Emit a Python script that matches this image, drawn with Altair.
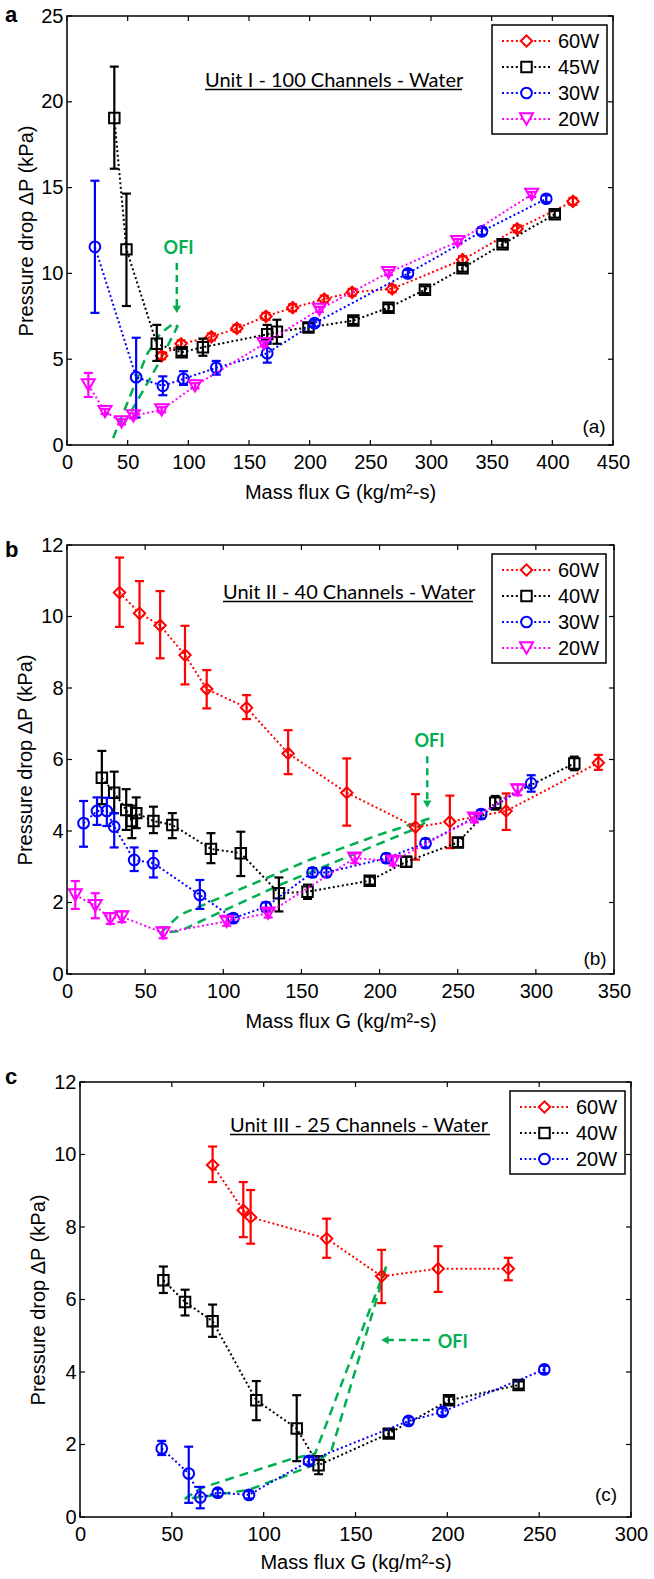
import altair as alt
import pandas as pd

FONT = "Liberation Sans"
TFONT = "Lato"
RED, BLACK, BLUE, MAG, GREEN = "#ff0000", "#000000", "#0000ff", "#ff00ff", "#00b050"

# ---------------- Panel (a): Unit I - 100 Channels ----------------
a_xticks = [0, 50, 100, 150, 200, 250, 300, 350, 400, 450]
a_yticks = [0, 5, 10, 15, 20, 25]
a_labels = ["60W", "45W", "30W", "20W"]

a60_G = [78, 94, 119, 140, 164, 186, 212, 235, 268, 326, 371, 417]
a60_P = [5.2, 5.9, 6.3, 6.8, 7.5, 8.0, 8.5, 8.9, 9.1, 10.8, 12.6, 14.2]
a60_lo = [5.0, 5.7, 6.1, 6.6, 7.3, 7.8, 8.3, 8.7, 8.9, 10.6, 12.4, 14.0]
a60_hi = [5.4, 6.1, 6.5, 7.0, 7.7, 8.2, 8.7, 9.1, 9.3, 11.0, 12.8, 14.4]

a45_G = [39, 49, 74, 94.5, 112, 165, 173, 199, 236, 265, 295, 326, 359, 402]
a45_P = [19.05, 11.4, 5.9, 5.4, 5.7, 6.45, 6.6, 6.85, 7.25, 8.0, 9.05, 10.3, 11.7, 13.45]
a45_lo = [16.1, 8.1, 4.9, 5.2, 5.2, 5.9, 5.9, 6.6, 7.05, 7.8, 8.85, 10.1, 11.5, 13.25]
a45_hi = [22.05, 14.65, 7.0, 5.6, 6.2, 7.0, 7.3, 7.1, 7.45, 8.2, 9.25, 10.5, 11.9, 13.65]

a30_G = [23, 57, 79, 96, 123, 165, 204, 281, 342, 395]
a30_P = [11.55, 3.95, 3.45, 3.85, 4.5, 5.35, 7.1, 10.0, 12.45, 14.35]
a30_lo = [7.7, 1.6, 2.9, 3.5, 4.1, 4.8, 6.9, 9.8, 12.25, 14.15]
a30_hi = [15.4, 6.25, 4.0, 4.3, 4.9, 6.0, 7.3, 10.2, 12.65, 14.55]

a20_G = [17.6, 31.3, 45, 54.7, 78, 105.5, 162.4, 208, 265, 322, 383]
a20_P = [3.5, 1.95, 1.35, 1.7, 2.05, 3.45, 5.9, 7.9, 10.05, 11.85, 14.6]
a20_lo = [2.8, 1.8, 1.2, 1.55, 1.9, 3.3, 5.75, 7.75, 9.9, 11.7, 14.45]
a20_hi = [4.2, 2.1, 1.5, 1.85, 2.2, 3.6, 6.05, 8.05, 10.2, 12.0, 14.75]

a_ofi_G = [38, 66, 77, 88, 91, 77, 63, 52, 45]
a_ofi_P = [0.4, 5.3, 6.5, 7.1, 6.9, 4.95, 3.2, 1.85, 1.0]
a_arrow_G = [90.5, 90.5]
a_arrow_P = [10.6, 7.9]
a_ofi_label = [92, 11.4]

# ---------------- Panel (b): Unit II - 40 Channels ----------------
b_xticks = [0, 50, 100, 150, 200, 250, 300, 350]
b_yticks = [0, 2, 4, 6, 8, 10, 12]
b_labels = ["60W", "40W", "30W", "20W"]

b60_G = [33.6, 46.4, 59.6, 75.5, 89.4, 114.9, 141.5, 179, 223, 245, 281, 340]
b60_P = [10.67, 10.09, 9.75, 8.92, 7.97, 7.45, 6.17, 5.07, 4.11, 4.26, 4.56, 5.91]
b60_lo = [9.71, 9.25, 8.83, 8.1, 7.43, 7.13, 5.59, 4.15, 3.2, 3.52, 4.03, 5.71]
b60_hi = [11.65, 10.99, 10.71, 9.74, 8.5, 7.8, 6.82, 6.03, 5.03, 4.99, 5.05, 6.13]

b40_G = [22.3, 30.2, 37.9, 41.5, 44.3, 55.3, 67.4, 92.1, 111.2, 135.6, 153.9, 193.7, 217.1, 250.1, 274, 324.6]
b40_P = [5.49, 5.07, 4.59, 4.28, 4.5, 4.28, 4.17, 3.5, 3.38, 2.26, 2.3, 2.61, 3.14, 3.68, 4.79, 5.89]
b40_lo = [4.75, 4.5, 4.03, 3.8, 4.08, 3.94, 3.8, 3.1, 2.74, 1.75, 2.1, 2.5, 3.0, 3.55, 4.6, 5.7]
b40_hi = [6.24, 5.66, 5.17, 4.71, 4.94, 4.68, 4.5, 3.94, 3.98, 2.7, 2.5, 2.72, 3.28, 3.81, 4.98, 6.08]

b30_G = [10.6, 19.2, 25.5, 30.2, 43, 55.3, 85, 106.4, 127.3, 157.1, 166, 204.3, 229.4, 265, 297]
b30_P = [4.22, 4.56, 4.56, 4.12, 3.19, 3.1, 2.21, 1.56, 1.88, 2.84, 2.84, 3.24, 3.66, 4.47, 5.33]
b30_lo = [3.56, 4.17, 4.14, 3.54, 2.88, 2.7, 1.82, 1.45, 1.75, 2.72, 2.72, 3.12, 3.54, 4.35, 5.1]
b30_hi = [4.84, 4.94, 4.93, 4.5, 3.54, 3.44, 2.63, 1.67, 2.0, 2.96, 2.96, 3.36, 3.78, 4.59, 5.56]

b20_G = [5.3, 18.1, 27.7, 35.1, 61.5, 102.2, 128.7, 184.1, 208.6, 260.7, 288.4]
b20_P = [2.21, 1.91, 1.55, 1.6, 1.15, 1.47, 1.7, 3.24, 3.16, 4.36, 5.15]
b20_lo = [1.82, 1.56, 1.4, 1.45, 1.0, 1.35, 1.58, 3.1, 3.04, 4.24, 5.0]
b20_hi = [2.6, 2.26, 1.7, 1.75, 1.3, 1.6, 1.82, 3.38, 3.28, 4.48, 5.3]

b_ofi_G = [60, 72, 155, 200, 232, 225, 136, 72, 60]
b_ofi_P = [1.15, 1.65, 3.19, 3.9, 4.35, 4.1, 2.49, 1.2, 1.15]
b_arrow_G = [230.5, 230.5]
b_arrow_P = [6.09, 4.75]
b_ofi_label = [232, 6.48]

# ---------------- Panel (c): Unit III - 25 Channels ----------------
c_xticks = [0, 50, 100, 150, 200, 250, 300]
c_yticks = [0, 2, 4, 6, 8, 10, 12]
c_labels = ["60W", "40W", "20W"]

c60_G = [72.2, 88.9, 92.9, 134.3, 164.2, 195, 233.2]
c60_P = [9.71, 8.46, 8.27, 7.68, 6.64, 6.85, 6.85]
c60_lo = [9.24, 7.72, 7.54, 7.15, 5.9, 6.21, 6.53]
c60_hi = [10.22, 9.24, 9.02, 8.23, 7.37, 7.47, 7.15]

c40_G = [45.4, 57.2, 72.2, 96, 118, 129.9, 168.1, 200.9, 238.8]
c40_P = [6.53, 5.93, 5.4, 3.22, 2.44, 1.43, 2.3, 3.22, 3.64]
c40_lo = [6.18, 5.56, 4.97, 2.67, 1.54, 1.18, 2.2, 3.12, 3.54]
c40_hi = [6.91, 6.27, 5.86, 3.75, 3.36, 1.68, 2.4, 3.32, 3.74]

c20_G = [44.5, 59.2, 65.5, 75, 92, 124.7, 178.9, 197.4, 252.8]
c20_P = [1.89, 1.2, 0.54, 0.67, 0.61, 1.55, 2.65, 2.9, 4.07]
c20_lo = [1.71, 0.39, 0.24, 0.57, 0.51, 1.45, 2.55, 2.8, 3.97]
c20_hi = [2.1, 1.94, 0.83, 0.77, 0.71, 1.65, 2.75, 3.0, 4.17]

c_ofi_G = [57, 66, 115, 128, 167, 137, 128, 92, 66, 57]
c_ofi_P = [0.5, 0.8, 1.6, 1.75, 6.95, 1.85, 1.45, 0.75, 0.55, 0.5]
c_arrow_G = [190.5, 166]
c_arrow_P = [4.88, 4.88]
c_ofi_label = [203, 4.8]

# marker styles: (color, shape, size)
ST_DIA = (RED, "diamond", 130)
ST_SQ = (BLACK, "square", 110)
ST_CIR = (BLUE, "circle", 115)
ST_TRI = (MAG, "triangle-down", 170)

ONE = pd.DataFrame({"k": [0]})
TL = 5  # inner tick length


def make_panel(p):
    W, H, x0 = p["W"], p["H"], p.get("x0", 0)
    xs = alt.Scale(domain=p["xdom"], nice=False, zero=False, range=[x0, W])
    ys = alt.Scale(domain=p["ydom"], nice=False, zero=False)
    xax = alt.Axis(values=p["xticks"], ticks=False, tickSize=0, domain=False, grid=False,
                   labelFont=FONT, labelFontSize=20, labelColor="black", labelPadding=7,
                   labelFlush=False, labelOverlap=False, format="d",
                   title="Mass flux G (kg/m²-s)", titleFont=FONT, titleFontSize=20,
                   titleFontWeight="normal", titleColor="black", titleX=x0 + (W - x0) / 2,
                   titleY=p.get("xty", 47), titleBaseline="middle", titleAlign="center")
    yax = alt.Axis(values=p["yticks"], ticks=False, tickSize=0, domain=False, grid=False,
                   labelFont=FONT, labelFontSize=20, labelColor="black", labelPadding=4,
                   labelFlush=False, labelOverlap=False, format="d", offset=-x0,
                   title="Pressure drop ΔP (kPa)", titleFont=FONT, titleFontSize=20,
                   titleFontWeight="normal", titleColor="black", titleAngle=270,
                   titleX=p["ytx"], titleY=H / 2, titleBaseline="middle", titleAlign="center")

    def X(f):
        return alt.X(f, scale=xs, axis=xax)

    def Y(f):
        return alt.Y(f, scale=ys, axis=yax)

    layers = []
    # invisible spacer fixing the panel's vertical extent for the layout
    top_ext, bot_ext = p["extent"]
    layers.append(alt.Chart(ONE).mark_rule(strokeOpacity=0, strokeWidth=1).encode(
        x=alt.value(x0 + 20), y=alt.value(-top_ext), y2=alt.value(H + bot_ext)))

    xt = pd.DataFrame({"v": p["xticks"]})
    yt = pd.DataFrame({"v": p["yticks"]})
    layers.append(alt.Chart(xt).mark_rule(color="black", strokeWidth=1.2).encode(
        x=X("v:Q"), y=alt.value(H), y2=alt.value(H - TL)))
    layers.append(alt.Chart(xt).mark_rule(color="black", strokeWidth=1.2).encode(
        x=X("v:Q"), y=alt.value(0), y2=alt.value(TL)))
    layers.append(alt.Chart(yt).mark_rule(color="black", strokeWidth=1.2).encode(
        y=Y("v:Q"), x=alt.value(x0), x2=alt.value(x0 + TL)))
    layers.append(alt.Chart(yt).mark_rule(color="black", strokeWidth=1.2).encode(
        y=Y("v:Q"), x=alt.value(W), x2=alt.value(W - TL)))

    # OFI loop
    odf = pd.DataFrame({"G": p["ofi_G"], "P": p["ofi_P"]})
    odf["i"] = range(len(odf))
    layers.append(alt.Chart(odf).mark_line(color=GREEN, strokeWidth=2.5, strokeDash=[9, 6]).encode(
        x=X("G:Q"), y=Y("P:Q"), order="i:Q"))
    adf = pd.DataFrame({"G": p["arrow_G"], "P": p["arrow_P"]})
    adf["i"] = range(len(adf))
    layers.append(alt.Chart(adf).mark_line(color=GREEN, strokeWidth=2.5, strokeDash=[7, 5]).encode(
        x=X("G:Q"), y=Y("P:Q"), order="i:Q"))
    layers.append(alt.Chart(adf.iloc[[-1]]).mark_point(shape=p["arrow_shape"], filled=True, size=70,
                                                        color=GREEN, opacity=1).encode(
        x=X("G:Q"), y=Y("P:Q")))
    ldf = pd.DataFrame({"G": [p["ofi_label"][0]], "P": [p["ofi_label"][1]], "t": ["OFI"]})
    layers.append(alt.Chart(ldf).mark_text(font=TFONT, fontSize=18, fontWeight="bold", color=GREEN,
                                           align="center", baseline="middle").encode(
        x=X("G:Q"), y=Y("P:Q"), text="t:N"))

    # series
    for s in p["series"]:
        G, P, lo, hi, (col, shp, sz) = s
        df = pd.DataFrame({"G": G, "P": P, "lo": lo, "hi": hi})
        df["i"] = range(len(df))
        layers.append(alt.Chart(df).mark_line(color=col, strokeWidth=2, strokeDash=[2, 2.6]).encode(
            x=X("G:Q"), y=Y("P:Q"), order="i:Q"))
        layers.append(alt.Chart(df).mark_rule(color=col, strokeWidth=2.2).encode(
            x=X("G:Q"), y=Y("lo:Q"), y2=alt.Y2("hi")))
        for f in ("lo", "hi"):
            layers.append(alt.Chart(df).mark_tick(color=col, orient="horizontal", size=9, thickness=2.2,
                                                  opacity=1).encode(x=X("G:Q"), y=Y(f + ":Q")))
        layers.append(alt.Chart(df).mark_point(shape=shp, size=sz, filled=False, color=col,
                                               strokeWidth=2, opacity=1).encode(x=X("G:Q"), y=Y("P:Q")))

    # title with underline
    tx, ty, tw = p["title_pos"]
    tx += x0
    layers.append(alt.Chart(ONE).mark_text(text=p["title"], font=TFONT, fontSize=20, color="black",
                                           align="left", baseline="alphabetic").encode(
        x=alt.value(tx), y=alt.value(ty)))
    layers.append(alt.Chart(ONE).mark_rule(color="black", strokeWidth=1.5).encode(
        x=alt.value(tx), x2=alt.value(tx + tw), y=alt.value(ty + 2.5)))

    # panel letter and tag
    lx, ly = p["letter_pos"]
    layers.append(alt.Chart(ONE).mark_text(text=p["letter"], font=FONT, fontSize=22, fontWeight="bold",
                                           color="black", align="left", baseline="alphabetic").encode(
        x=alt.value(lx + x0), y=alt.value(ly)))
    gx, gy = p["tag_pos"]
    layers.append(alt.Chart(ONE).mark_text(text=p["tag"], font=FONT, fontSize=19, color="black",
                                           align="center", baseline="middle").encode(
        x=alt.value(gx + x0), y=alt.value(gy)))

    # legend
    bx0, bx1, by0 = p["leg_box"]
    bx0 += x0
    bx1 += x0
    n = len(p["legend"])
    by1 = by0 + 16 + 26 * (n - 1) + 15
    layers.append(alt.Chart(ONE).mark_rect(fill="white", stroke="black", strokeWidth=1.5).encode(
        x=alt.value(bx0), x2=alt.value(bx1), y=alt.value(by0), y2=alt.value(by1)))
    for k, (lab, (col, shp, sz)) in enumerate(p["legend"]):
        yy = by0 + 16 + 26 * k
        layers.append(alt.Chart(ONE).mark_rule(color=col, strokeWidth=2, strokeDash=[2, 2.6]).encode(
            x=alt.value(bx0 + 10), x2=alt.value(bx0 + 58), y=alt.value(yy)))
        layers.append(alt.Chart(ONE).mark_point(shape=shp, size=sz, filled=False, color=col, fill="white",
                                                strokeWidth=2, opacity=1).encode(
            x=alt.value(bx0 + 34.5), y=alt.value(yy)))
        layers.append(alt.Chart(ONE).mark_text(text=lab, font=FONT, fontSize=20, color="black",
                                               align="left", baseline="middle").encode(
            x=alt.value(bx0 + 66), y=alt.value(yy + 1)))

    # plot frame
    layers.append(alt.Chart(ONE).mark_rect(fillOpacity=0, stroke="black", strokeWidth=1.5).encode(
        x=alt.value(x0), x2=alt.value(W), y=alt.value(0), y2=alt.value(H)))

    return alt.layer(*layers).properties(width=W, height=H)


pa = make_panel(dict(
    W=546, H=429, xdom=[0, 450], ydom=[0, 25], xticks=a_xticks, yticks=a_yticks, ytx=-41,
    extent=(16, 62),
    series=[(a60_G, a60_P, a60_lo, a60_hi, ST_DIA), (a45_G, a45_P, a45_lo, a45_hi, ST_SQ),
            (a30_G, a30_P, a30_lo, a30_hi, ST_CIR), (a20_G, a20_P, a20_lo, a20_hi, ST_TRI)],
    ofi_G=a_ofi_G, ofi_P=a_ofi_P, arrow_G=a_arrow_G, arrow_P=a_arrow_P, arrow_shape="triangle-down",
    ofi_label=a_ofi_label,
    title="Unit I - 100 Channels - Water", title_pos=(138, 71, 257),
    letter="a", letter_pos=(-62, 6), tag="(a)", tag_pos=(527, 411),
    leg_box=(425, 540, 9),
    legend=list(zip(a_labels, [ST_DIA, ST_SQ, ST_CIR, ST_TRI])),
))

pb = make_panel(dict(
    W=547, H=429, xdom=[0, 350], ydom=[0, 12], xticks=b_xticks, yticks=b_yticks, ytx=-42,
    extent=(16, 62),
    series=[(b60_G, b60_P, b60_lo, b60_hi, ST_DIA), (b40_G, b40_P, b40_lo, b40_hi, ST_SQ),
            (b30_G, b30_P, b30_lo, b30_hi, ST_CIR), (b20_G, b20_P, b20_lo, b20_hi, ST_TRI)],
    ofi_G=b_ofi_G, ofi_P=b_ofi_P, arrow_G=b_arrow_G, arrow_P=b_arrow_P, arrow_shape="triangle-down",
    ofi_label=b_ofi_label,
    title="Unit II - 40 Channels - Water", title_pos=(156, 54, 250),
    letter="b", letter_pos=(-62, 12), tag="(b)", tag_pos=(528, 414),
    leg_box=(425, 539, 9),
    legend=list(zip(b_labels, [ST_DIA, ST_SQ, ST_CIR, ST_TRI])),
))

pc = make_panel(dict(
    W=564, x0=13, H=435, xdom=[0, 300], ydom=[0, 12], xticks=c_xticks, yticks=c_yticks, ytx=-42,
    xty=45, extent=(22, 0),
    series=[(c60_G, c60_P, c60_lo, c60_hi, ST_DIA), (c40_G, c40_P, c40_lo, c40_hi, ST_SQ),
            (c20_G, c20_P, c20_lo, c20_hi, ST_CIR)],
    ofi_G=c_ofi_G, ofi_P=c_ofi_P, arrow_G=c_arrow_G, arrow_P=c_arrow_P, arrow_shape="triangle-left",
    ofi_label=c_ofi_label,
    title="Unit III - 25 Channels - Water", title_pos=(150, 50, 260),
    letter="c", letter_pos=(-75, 2), tag="(c)", tag_pos=(526, 413),
    leg_box=(430, 545, 9),
    legend=list(zip(c_labels, [ST_DIA, ST_SQ, ST_CIR])),
))

chart = alt.vconcat(alt.vconcat(pa, pb, spacing=22), pc, spacing=24).properties(
    padding={"left": 5, "top": 0, "right": 0, "bottom": 0},
    background="white",
).configure_view(strokeWidth=0)

chart.save("out.html", embed_options={"renderer": "svg", "actions": False})
